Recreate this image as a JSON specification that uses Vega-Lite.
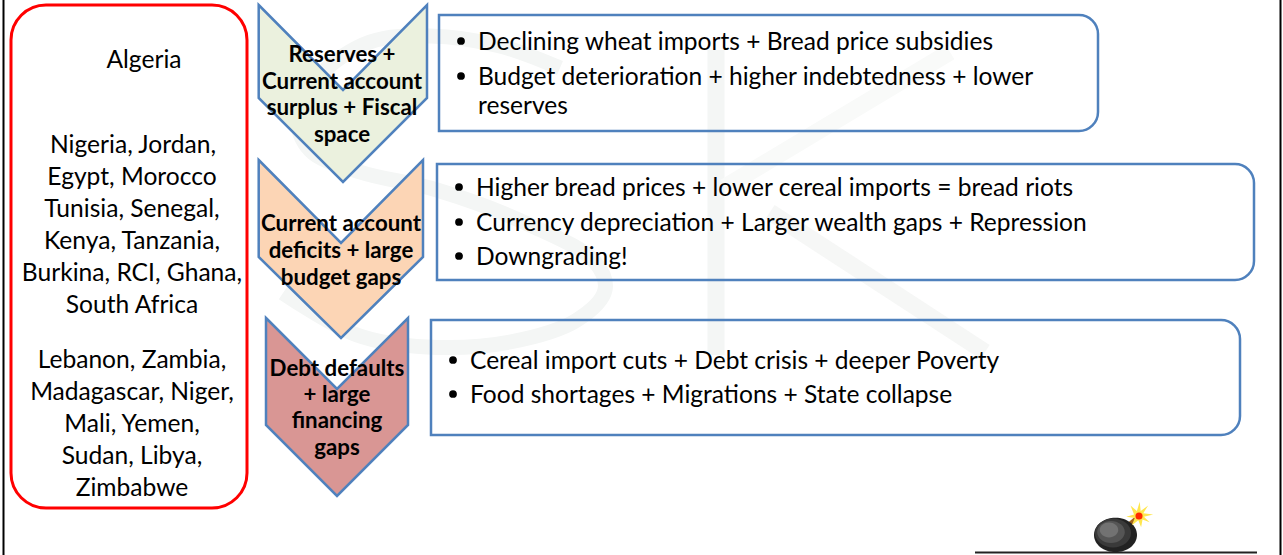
{"$schema":"https://vega.github.io/schema/vega-lite/v6.json","width":1283,"height":555,"autosize":{"type":"none"},"padding":0,"background":"white","config":{"view":{"stroke":null},"font":"Lato"},
"encoding":{"x":{"field":"x","type":"quantitative","scale":{"domain":[0,1283],"nice":false,"zero":false},"axis":null},"y":{"field":"y","type":"quantitative","scale":{"domain":[555,0],"nice":false,"zero":false},"axis":null}},
"layer":[
{"data":{"values":[{"p":"s","o":1,"x":560,"y":68},{"p":"s","o":2,"x":500,"y":46},{"p":"s","o":3,"x":430,"y":36},{"p":"s","o":4,"x":370,"y":42},{"p":"s","o":5,"x":320,"y":75},{"p":"s","o":6,"x":297,"y":115},{"p":"s","o":7,"x":310,"y":150},{"p":"s","o":8,"x":360,"y":172},{"p":"s","o":9,"x":437,"y":190},{"p":"s","o":10,"x":530,"y":225},{"p":"s","o":11,"x":595,"y":262},{"p":"s","o":12,"x":605,"y":290},{"p":"s","o":13,"x":577,"y":320},{"p":"s","o":14,"x":510,"y":342},{"p":"s","o":15,"x":427,"y":347},{"p":"s","o":16,"x":357,"y":335},{"p":"s","o":17,"x":283,"y":293}]},
"mark":{"type":"line","stroke":"#f4f6f5","strokeWidth":15,"interpolate":"catmull-rom"},"encoding":{"order":{"field":"o"}}},
{"data":{"values":[{"p":"k1","o":1,"x":716,"y":50},{"p":"k1","o":2,"x":716,"y":355}]},
"mark":{"type":"line","stroke":"#f4f6f5","strokeWidth":17},"encoding":{"detail":{"field":"p"},"order":{"field":"o"}}},
{"data":{"values":[{"p":"k2","o":1,"x":950,"y":52},{"p":"k2","o":2,"x":725,"y":187}]},
"mark":{"type":"line","stroke":"#f9faf9","strokeWidth":17},"encoding":{"detail":{"field":"p"},"order":{"field":"o"}}},
{"data":{"values":[{"p":"k3","o":1,"x":770,"y":212},{"p":"k3","o":2,"x":985,"y":352}]},
"mark":{"type":"line","stroke":"#f6f7f6","strokeWidth":17},"encoding":{"detail":{"field":"p"},"order":{"field":"o"}}},
{"data":{"values":[{"x":3.5,"y":0,"y2":555},{"x":1280.5,"y":0,"y2":555}]},"mark":{"type":"rule","stroke":"#000","strokeWidth":2},"encoding":{"y2":{"field":"y2"}}},
{"data":{"values":[{"x":975,"x2":1257,"y":552.5}]},"mark":{"type":"rule","stroke":"#222","strokeWidth":2},"encoding":{"x2":{"field":"x2"}}},
{"data":{"values":[{"x":11,"x2":247,"y":5,"y2":508}]},"mark":{"type":"rect","fill":null,"stroke":"#ff0000","strokeWidth":3,"cornerRadius":35},"encoding":{"x2":{"field":"x2"},"y2":{"field":"y2"}}},
{"data":{"values":[{"x":439,"x2":1098,"y":15,"y2":131},{"x":437,"x2":1254,"y":164,"y2":280},{"x":431,"x2":1240,"y":320,"y2":435}]},"mark":{"type":"rect","fill":null,"stroke":"#4f81bd","strokeWidth":2.5,"cornerRadiusTopRight":19,"cornerRadiusBottomRight":19},"encoding":{"x2":{"field":"x2"},"y2":{"field":"y2"}}},
{"data":{"values":[{"x":258.7,"y":5,"y2":98},{"x":343,"y":90,"y2":182},{"x":427,"y":5,"y2":98}]},"mark":{"type":"area","fill":"#ebf1de","stroke":"#4f81bd","strokeWidth":2.5},"encoding":{"y2":{"field":"y2"}}},
{"data":{"values":[{"x":258.7,"y":160,"y2":257},{"x":341,"y":243,"y2":338},{"x":423,"y":160,"y2":257}]},"mark":{"type":"area","fill":"#fcd5b5","stroke":"#4f81bd","strokeWidth":2.5},"encoding":{"y2":{"field":"y2"}}},
{"data":{"values":[{"x":266,"y":318,"y2":425},{"x":337,"y":389,"y2":496},{"x":408,"y":318,"y2":425}]},"mark":{"type":"area","fill":"#d99694","stroke":"#4f81bd","strokeWidth":2.5},"encoding":{"y2":{"field":"y2"}}},
{"data":{"values":[{"x":144,"y":59,"t":"Algeria"},{"x":133,"y":144,"t":"Nigeria, Jordan,"},{"x":132,"y":176,"t":"Egypt, Morocco"},{"x":132,"y":208,"t":"Tunisia, Senegal,"},{"x":132,"y":240,"t":"Kenya, Tanzania,"},{"x":132,"y":272,"t":"Burkina, RCI, Ghana,"},{"x":132,"y":304,"t":"South Africa"},{"x":132,"y":359,"t":"Lebanon, Zambia,"},{"x":132,"y":391,"t":"Madagascar, Niger,"},{"x":132,"y":423,"t":"Mali, Yemen,"},{"x":132,"y":455,"t":"Sudan, Libya,"},{"x":132,"y":487,"t":"Zimbabwe"}]},
"mark":{"type":"text","font":"Lato","fontSize":24.6,"fill":"#000","align":"center","baseline":"middle","dy":2},"encoding":{"text":{"field":"t"}}},
{"data":{"values":[{"x":342,"y":54,"t":"Reserves +"},{"x":342,"y":81,"t":"Current account"},{"x":342,"y":107,"t":"surplus + Fiscal"},{"x":342,"y":134,"t":"space"},{"x":341,"y":223,"t":"Current account"},{"x":341,"y":250,"t":"deficits + large"},{"x":341,"y":277,"t":"budget gaps"},{"x":337,"y":368,"t":"Debt defaults"},{"x":337,"y":394,"t":"+ large"},{"x":337,"y":420,"t":"financing"},{"x":337,"y":447,"t":"gaps"}]},
"mark":{"type":"text","font":"Lato","fontSize":22.3,"fontWeight":"bold","fill":"#000","align":"center","baseline":"middle","dy":1},"encoding":{"text":{"field":"t"}}},
{"data":{"values":[{"x":479,"y":41,"t":"Declining wheat imports + Bread price subsidies"},{"x":479,"y":76,"t":"Budget deterioration + higher indebtedness + lower"},{"x":479,"y":105,"t":"reserves"},{"x":477,"y":187,"t":"Higher bread prices + lower cereal imports = bread riots"},{"x":477,"y":222,"t":"Currency depreciation + Larger wealth gaps + Repression"},{"x":477,"y":256,"t":"Downgrading!"},{"x":471,"y":360,"t":"Cereal import cuts + Debt crisis + deeper Poverty"},{"x":471,"y":394,"t":"Food shortages + Migrations + State collapse"}]},
"mark":{"type":"text","font":"Lato","fontSize":24.55,"fill":"#000","align":"left","baseline":"middle","dy":2,"dx":-1},"encoding":{"text":{"field":"t"}}},
{"data":{"values":[{"x":461,"y":41},{"x":461,"y":76},{"x":459,"y":187},{"x":459,"y":222},{"x":459,"y":256},{"x":453,"y":360},{"x":453,"y":394}]},
"mark":{"type":"point","shape":"circle","filled":true,"fill":"#000","opacity":1,"size":60}},
{"data":{"values":[{"x":1127,"y":526,"x2":1139,"y2":516}]},"mark":{"type":"rule","stroke":"#a5651e","strokeWidth":4},"encoding":{"x2":{"field":"x2"},"y2":{"field":"y2"}}},
{"data":{"values":[{"x":1115.5,"y":535,"s":1849,"c":"a"},{"x":1113,"y":533,"s":1300,"c":"b"},{"x":1111,"y":532,"s":760,"c":"c"},{"x":1109,"y":530,"s":340,"c":"d"}]},
"mark":{"type":"point","shape":"M-1,0A1,0.8,0,1,1,1,0A1,0.8,0,1,1,-1,0Z","filled":true,"opacity":1},"encoding":{"size":{"field":"s","type":"quantitative","scale":null},"fill":{"field":"c","type":"nominal","scale":{"domain":["a","b","c","d"],"range":["#222222","#3a3a3a","#555555","#727272"]},"legend":null}}},
{"data":{"values":[{"x":1139,"y":516}]},"mark":{"type":"point","shape":"M1,-0.1L0.3,-0.2L0.65,-0.75L0.12,-0.35L0.05,-1L-0.15,-0.35L-0.6,-0.75L-0.35,-0.1L-0.9,0.05L-0.3,0.15L-0.5,0.65L-0.05,0.3L0.15,0.8L0.25,0.25L0.75,0.45L0.35,0.05Z","filled":true,"fill":"#ffe64d","opacity":1,"size":800}},
{"data":{"values":[{"x":1139,"y":516}]},"mark":{"type":"point","shape":"circle","filled":true,"fill":"#ff2a00","opacity":1,"size":50}}
]}
